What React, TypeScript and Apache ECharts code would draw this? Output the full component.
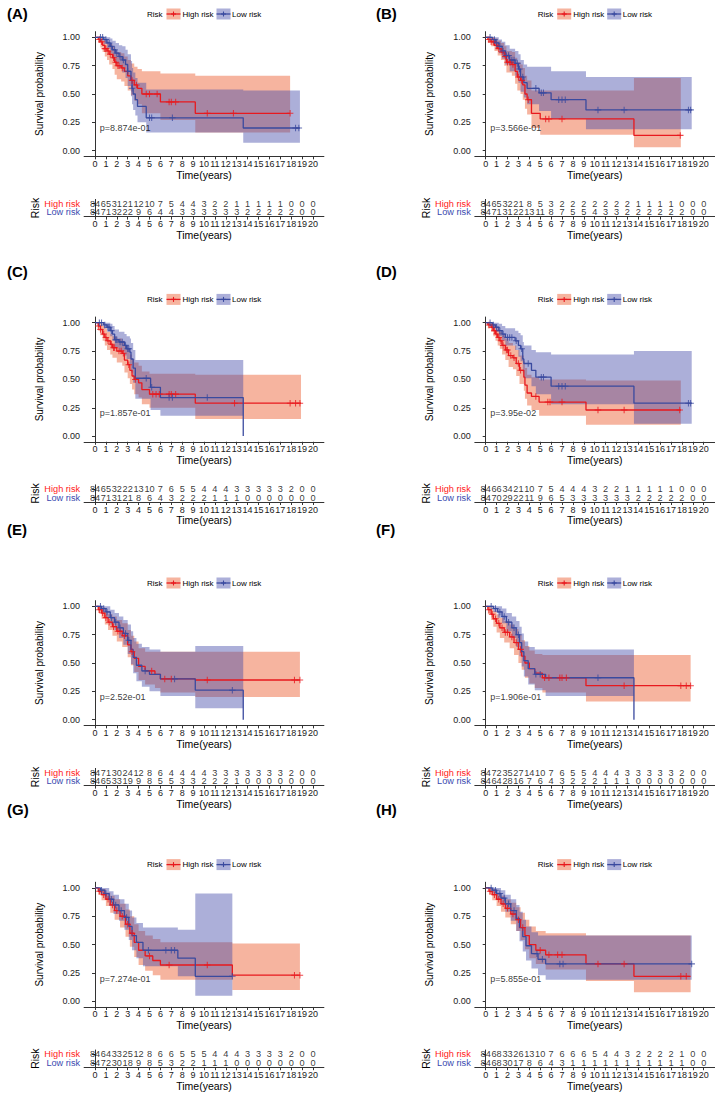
import React, { useEffect, useRef } from "react";
import * as echarts from "echarts";

const YEARS = [0, 1, 2, 3, 4, 5, 6, 7, 8, 9, 10, 11, 12, 13, 14, 15, 16, 17, 18, 19, 20];
const SURV_TICKS = [0, 0.25, 0.5, 0.75, 1];
const PANEL_LABELS = ["(A)", "(B)", "(C)", "(D)", "(E)", "(F)", "(G)", "(H)"];
const P_VALUES = ["p=8.874e-01", "p=3.566e-01", "p=1.857e-01", "p=3.95e-02", "p=2.52e-01", "p=1.906e-01", "p=7.274e-01", "p=5.855e-01"];
const GROUPS = ["High risk", "Low risk"];

// steps: [time, survival, lower CI, upper CI]
const aHighSteps = [[0, 1, 1, 1], [0.3, 0.98, 0.95, 1], [0.5, 0.96, 0.91, 1], [0.7, 0.93, 0.87, 0.99], [0.9, 0.9, 0.83, 0.97], [1.1, 0.88, 0.8, 0.96], [1.3, 0.85, 0.76, 0.94], [1.6, 0.82, 0.72, 0.92], [1.8, 0.78, 0.67, 0.89], [2.0, 0.75, 0.63, 0.87], [2.4, 0.73, 0.61, 0.86], [2.7, 0.7, 0.57, 0.83], [3.0, 0.66, 0.53, 0.8], [3.3, 0.62, 0.49, 0.77], [3.6, 0.58, 0.44, 0.74], [3.9, 0.55, 0.41, 0.72], [4.3, 0.5, 0.33, 0.7], [6.0, 0.43, 0.27, 0.68], [9.2, 0.33, 0.16, 0.66], [17.9, 0.33, 0.16, 0.66]];
const aHighCensor = [0.4, 0.6, 0.9, 1.0, 1.2, 1.4, 1.7, 1.9, 2.1, 2.2, 2.5, 3.4, 3.8, 4.7, 5.0, 5.7, 6.8, 7.0, 7.4, 10.3, 12.7, 17.9];
const aLowSteps = [[0, 1, 1, 1], [0.8, 0.98, 0.94, 1], [1.1, 0.95, 0.9, 1], [1.4, 0.92, 0.86, 0.99], [1.6, 0.89, 0.81, 0.97], [1.9, 0.86, 0.77, 0.95], [2.2, 0.83, 0.73, 0.93], [2.5, 0.8, 0.69, 0.92], [2.8, 0.76, 0.64, 0.89], [3.0, 0.7, 0.57, 0.85], [3.3, 0.62, 0.48, 0.79], [3.4, 0.55, 0.41, 0.73], [3.5, 0.5, 0.36, 0.69], [3.7, 0.45, 0.31, 0.64], [3.9, 0.39, 0.25, 0.6], [4.7, 0.29, 0.16, 0.54], [13.6, 0.2, 0.07, 0.53], [18.8, 0.2, 0.07, 0.53]];
const aLowCensor = [0.5, 0.7, 1.0, 1.3, 1.5, 1.8, 2.0, 2.3, 2.6, 3.0, 3.4, 5.0, 5.2, 7.1, 18.4, 18.7];
const aHighRisk = [84, 65, 31, 21, 12, 10, 7, 5, 4, 4, 3, 2, 2, 1, 1, 1, 1, 1, 0, 0, 0];
const aLowRisk = [84, 71, 32, 22, 9, 6, 4, 4, 3, 3, 3, 3, 3, 3, 2, 2, 2, 2, 2, 0, 0];

const bHighSteps = [[0, 1, 1, 1], [0.2, 0.98, 0.95, 1], [0.5, 0.96, 0.92, 1], [0.8, 0.93, 0.88, 0.99], [1.1, 0.9, 0.84, 0.97], [1.4, 0.87, 0.8, 0.95], [1.7, 0.83, 0.75, 0.92], [1.9, 0.78, 0.69, 0.88], [2.4, 0.76, 0.66, 0.87], [2.7, 0.7, 0.59, 0.82], [2.9, 0.65, 0.53, 0.78], [3.2, 0.62, 0.5, 0.76], [3.4, 0.58, 0.45, 0.73], [3.6, 0.5, 0.37, 0.66], [3.8, 0.45, 0.32, 0.62], [4.2, 0.33, 0.2, 0.53], [5.0, 0.28, 0.14, 0.53], [13.6, 0.135, 0.03, 0.64], [17.9, 0.135, 0.03, 0.64]];
const bHighCensor = [0.3, 0.5, 0.7, 1.0, 1.2, 1.5, 1.8, 2.0, 2.2, 2.3, 2.5, 3.0, 3.3, 3.9, 5.5, 5.8, 7.0, 17.85];
const bLowSteps = [[0, 1, 1, 1], [0.6, 0.98, 0.95, 1], [0.9, 0.95, 0.9, 1], [1.2, 0.92, 0.86, 0.98], [1.5, 0.88, 0.81, 0.96], [1.8, 0.84, 0.76, 0.93], [2.2, 0.8, 0.7, 0.9], [2.7, 0.77, 0.66, 0.88], [3.0, 0.72, 0.6, 0.85], [3.2, 0.65, 0.52, 0.8], [3.5, 0.6, 0.47, 0.76], [3.8, 0.55, 0.41, 0.74], [4.9, 0.51, 0.35, 0.74], [6.0, 0.45, 0.28, 0.7], [9.2, 0.36, 0.19, 0.65], [18.9, 0.36, 0.19, 0.65]];
const bLowCensor = [0.4, 0.8, 1.0, 1.3, 1.6, 1.9, 2.1, 2.4, 2.6, 2.9, 3.1, 3.4, 4.6, 5.1, 5.3, 6.7, 7.0, 7.3, 10.3, 12.7, 18.6, 18.8];
const bHighRisk = [84, 65, 32, 21, 8, 5, 3, 2, 2, 2, 2, 2, 2, 2, 1, 1, 1, 1, 0, 0, 0];
const bLowRisk = [84, 71, 31, 22, 13, 11, 8, 7, 5, 5, 4, 3, 3, 2, 2, 2, 2, 2, 2, 0, 0];

const cHighSteps = [[0, 1, 1, 1], [0.3, 0.97, 0.93, 1], [0.5, 0.94, 0.89, 0.99], [0.7, 0.9, 0.84, 0.97], [0.9, 0.87, 0.8, 0.95], [1.1, 0.84, 0.76, 0.92], [1.4, 0.81, 0.72, 0.9], [1.6, 0.78, 0.69, 0.88], [2.0, 0.75, 0.65, 0.86], [2.5, 0.73, 0.62, 0.84], [2.7, 0.67, 0.56, 0.8], [3.0, 0.63, 0.51, 0.77], [3.2, 0.58, 0.46, 0.72], [3.4, 0.53, 0.41, 0.68], [3.6, 0.5, 0.37, 0.65], [4.0, 0.47, 0.34, 0.62], [4.3, 0.41, 0.28, 0.57], [5.0, 0.37, 0.25, 0.55], [9.2, 0.29, 0.15, 0.54], [18.9, 0.29, 0.15, 0.54]];
const cHighCensor = [0.3, 0.5, 0.8, 1.0, 1.2, 1.5, 1.7, 1.8, 2.2, 2.4, 2.6, 3.1, 3.7, 5.3, 5.6, 5.9, 6.8, 7.0, 7.4, 12.8, 17.9, 18.4, 18.8];
const cLowSteps = [[0, 1, 1, 1], [0.8, 0.98, 0.95, 1], [1.1, 0.96, 0.92, 1], [1.4, 0.93, 0.88, 0.99], [1.6, 0.9, 0.84, 0.97], [1.8, 0.85, 0.78, 0.94], [2.2, 0.83, 0.75, 0.92], [2.7, 0.8, 0.71, 0.9], [2.9, 0.77, 0.68, 0.88], [3.2, 0.74, 0.63, 0.86], [3.3, 0.68, 0.56, 0.82], [3.5, 0.6, 0.47, 0.76], [3.7, 0.51, 0.33, 0.67], [5.1, 0.43, 0.23, 0.67], [6.0, 0.34, 0.18, 0.67], [13.6, 0, 0, 0]];
const cLowCensor = [0.4, 0.6, 0.9, 1.2, 1.3, 1.5, 1.9, 2.0, 2.3, 2.5, 2.8, 3.0, 3.1, 4.7, 5.2, 6.8, 7.1, 10.3];
const cHighRisk = [84, 65, 32, 22, 13, 10, 7, 6, 5, 5, 4, 4, 4, 3, 3, 3, 3, 3, 2, 0, 0];
const cLowRisk = [84, 71, 31, 21, 8, 6, 4, 3, 2, 2, 2, 1, 1, 1, 0, 0, 0, 0, 0, 0, 0];

const dHighSteps = [[0, 1, 1, 1], [0.2, 0.98, 0.95, 1], [0.5, 0.96, 0.92, 1], [0.7, 0.93, 0.88, 0.98], [0.9, 0.9, 0.84, 0.96], [1.1, 0.87, 0.8, 0.94], [1.3, 0.84, 0.77, 0.92], [1.5, 0.8, 0.72, 0.89], [1.8, 0.76, 0.67, 0.86], [2.1, 0.71, 0.61, 0.82], [2.5, 0.69, 0.59, 0.8], [2.8, 0.64, 0.53, 0.76], [3.1, 0.58, 0.46, 0.71], [3.5, 0.52, 0.4, 0.66], [3.6, 0.45, 0.33, 0.6], [3.8, 0.38, 0.27, 0.54], [4.2, 0.35, 0.23, 0.52], [4.9, 0.3, 0.18, 0.5], [9.2, 0.23, 0.1, 0.49], [17.9, 0.23, 0.1, 0.49]];
const dHighCensor = [0.3, 0.6, 0.8, 1.0, 1.2, 1.4, 1.6, 1.9, 2.0, 2.3, 2.6, 3.0, 3.2, 4.6, 5.7, 5.9, 7.0, 10.3, 12.7, 17.8];
const dLowSteps = [[0, 1, 1, 1], [0.6, 0.98, 0.95, 1], [0.9, 0.96, 0.92, 1], [1.2, 0.93, 0.88, 0.99], [1.5, 0.9, 0.84, 0.97], [1.8, 0.87, 0.8, 0.95], [2.7, 0.84, 0.76, 0.93], [3.0, 0.8, 0.7, 0.91], [3.2, 0.77, 0.66, 0.89], [3.4, 0.68, 0.56, 0.83], [3.5, 0.64, 0.51, 0.8], [4.2, 0.58, 0.44, 0.76], [4.6, 0.52, 0.37, 0.74], [6.0, 0.44, 0.28, 0.72], [13.6, 0.29, 0.11, 0.75], [18.9, 0.29, 0.11, 0.75]];
const dLowCensor = [0.4, 0.7, 1.0, 1.3, 1.6, 2.0, 2.2, 2.4, 2.8, 3.3, 3.9, 5.1, 5.3, 6.7, 7.0, 7.3, 18.6, 18.8];
const dHighRisk = [84, 66, 34, 21, 10, 7, 5, 4, 4, 4, 3, 2, 2, 1, 1, 1, 1, 1, 0, 0, 0];
const dLowRisk = [84, 70, 29, 22, 11, 9, 6, 5, 3, 3, 3, 3, 3, 3, 2, 2, 2, 2, 2, 0, 0];

const eHighSteps = [[0, 1, 1, 1], [0.3, 0.97, 0.94, 1], [0.6, 0.94, 0.89, 0.99], [0.9, 0.9, 0.84, 0.96], [1.2, 0.86, 0.79, 0.93], [1.6, 0.82, 0.74, 0.91], [2.0, 0.78, 0.69, 0.88], [2.5, 0.74, 0.64, 0.85], [3.0, 0.66, 0.55, 0.79], [3.3, 0.6, 0.48, 0.74], [3.6, 0.54, 0.42, 0.69], [4.0, 0.47, 0.35, 0.63], [4.6, 0.43, 0.31, 0.6], [5.5, 0.4, 0.28, 0.6], [6.0, 0.36, 0.24, 0.6], [9.2, 0.35, 0.2, 0.6], [18.8, 0.35, 0.2, 0.6]];
const eHighCensor = [0.4, 0.7, 1.0, 1.3, 1.7, 2.1, 2.3, 2.7, 3.4, 5.2, 6.4, 7.0, 10.3, 18.3, 18.8];
const eLowSteps = [[0, 1, 1, 1], [0.6, 0.98, 0.95, 1], [1.0, 0.95, 0.9, 1], [1.4, 0.9, 0.84, 0.97], [1.8, 0.86, 0.79, 0.94], [2.2, 0.81, 0.72, 0.91], [2.6, 0.76, 0.66, 0.88], [3.0, 0.7, 0.58, 0.84], [3.3, 0.62, 0.49, 0.78], [3.5, 0.55, 0.41, 0.72], [3.8, 0.48, 0.34, 0.67], [4.3, 0.43, 0.29, 0.64], [5.0, 0.4, 0.25, 0.62], [6.0, 0.36, 0.21, 0.6], [9.2, 0.26, 0.1, 0.65], [13.6, 0, 0, 0]];
const eLowCensor = [0.5, 0.8, 1.1, 1.5, 1.9, 2.3, 2.8, 3.1, 4.6, 7.3, 12.6];
const eHighRisk = [84, 71, 30, 24, 12, 8, 6, 4, 4, 4, 4, 3, 3, 3, 3, 3, 3, 3, 2, 0, 0];
const eLowRisk = [84, 65, 33, 19, 9, 8, 5, 5, 3, 3, 2, 2, 2, 1, 0, 0, 0, 0, 0, 0, 0];

const fHighSteps = [[0, 1, 1, 1], [0.2, 0.97, 0.93, 1], [0.5, 0.93, 0.88, 0.99], [0.7, 0.89, 0.82, 0.96], [1.0, 0.85, 0.77, 0.93], [1.3, 0.81, 0.72, 0.9], [1.7, 0.77, 0.68, 0.87], [2.2, 0.73, 0.63, 0.84], [2.6, 0.68, 0.57, 0.8], [3.0, 0.62, 0.5, 0.75], [3.3, 0.56, 0.44, 0.7], [3.6, 0.5, 0.37, 0.65], [4.0, 0.45, 0.32, 0.61], [4.5, 0.41, 0.28, 0.58], [5.2, 0.37, 0.24, 0.57], [9.2, 0.3, 0.16, 0.57], [18.8, 0.3, 0.16, 0.57]];
const fHighCensor = [0.3, 0.6, 0.9, 1.2, 1.5, 1.8, 2.0, 2.4, 2.8, 3.2, 5.4, 5.8, 6.8, 7.0, 7.4, 12.7, 17.9, 18.4, 18.8];
const fLowSteps = [[0, 1, 1, 1], [0.7, 0.98, 0.95, 1], [1.1, 0.95, 0.9, 1], [1.5, 0.91, 0.85, 0.98], [1.9, 0.86, 0.78, 0.94], [2.4, 0.81, 0.72, 0.91], [2.8, 0.75, 0.64, 0.87], [3.1, 0.68, 0.56, 0.82], [3.3, 0.6, 0.47, 0.76], [3.5, 0.52, 0.38, 0.69], [3.9, 0.45, 0.31, 0.64], [4.5, 0.4, 0.26, 0.62], [5.5, 0.37, 0.21, 0.62], [13.6, 0, 0, 0]];
const fLowCensor = [0.5, 0.9, 1.3, 1.7, 2.1, 2.6, 3.0, 4.6, 5.0, 10.3];
const fHighRisk = [84, 72, 35, 27, 14, 10, 7, 6, 5, 5, 4, 4, 4, 3, 3, 3, 3, 3, 2, 0, 0];
const fLowRisk = [84, 64, 28, 16, 7, 6, 4, 3, 2, 2, 2, 1, 1, 1, 0, 0, 0, 0, 0, 0, 0];

const gHighSteps = [[0, 1, 1, 1], [0.3, 0.97, 0.94, 1], [0.6, 0.94, 0.89, 0.99], [1.0, 0.9, 0.84, 0.96], [1.4, 0.85, 0.78, 0.93], [1.8, 0.8, 0.72, 0.9], [2.3, 0.75, 0.65, 0.86], [2.8, 0.68, 0.57, 0.81], [3.2, 0.6, 0.48, 0.75], [3.6, 0.52, 0.39, 0.68], [4.0, 0.45, 0.32, 0.62], [4.6, 0.4, 0.27, 0.58], [5.3, 0.36, 0.23, 0.55], [6.0, 0.32, 0.19, 0.52], [12.6, 0.23, 0.1, 0.51], [18.8, 0.23, 0.1, 0.51]];
const gHighCensor = [0.4, 0.8, 1.2, 1.6, 2.0, 2.5, 3.0, 3.4, 5.0, 6.8, 10.3, 18.3, 18.8];
const gLowSteps = [[0, 1, 1, 1], [0.5, 0.98, 0.95, 1], [0.9, 0.95, 0.9, 1], [1.3, 0.9, 0.84, 0.97], [1.7, 0.85, 0.77, 0.94], [2.2, 0.8, 0.71, 0.9], [2.7, 0.74, 0.63, 0.86], [3.1, 0.66, 0.54, 0.8], [3.4, 0.58, 0.45, 0.74], [3.8, 0.52, 0.38, 0.69], [4.4, 0.45, 0.31, 0.65], [7.6, 0.38, 0.22, 0.63], [9.2, 0.22, 0.05, 0.95], [12.6, 0.22, 0.05, 0.95]];
const gLowCensor = [0.6, 1.0, 1.5, 1.9, 2.4, 2.9, 4.9, 6.5, 7.0, 7.3, 12.6];
const gHighRisk = [84, 64, 33, 25, 12, 8, 6, 6, 5, 5, 5, 4, 4, 4, 3, 3, 3, 3, 2, 0, 0];
const gLowRisk = [84, 72, 30, 18, 9, 8, 5, 3, 2, 2, 1, 1, 1, 0, 0, 0, 0, 0, 0, 0, 0];

const hHighSteps = [[0, 1, 1, 1], [0.3, 0.97, 0.94, 1], [0.6, 0.94, 0.89, 0.99], [1.0, 0.9, 0.84, 0.96], [1.4, 0.86, 0.79, 0.93], [1.8, 0.82, 0.74, 0.9], [2.3, 0.77, 0.68, 0.87], [2.8, 0.72, 0.62, 0.83], [3.2, 0.65, 0.54, 0.78], [3.6, 0.58, 0.46, 0.72], [4.0, 0.5, 0.38, 0.66], [4.6, 0.45, 0.33, 0.62], [5.5, 0.41, 0.28, 0.6], [9.2, 0.33, 0.18, 0.58], [13.6, 0.22, 0.08, 0.58], [18.8, 0.22, 0.08, 0.58]];
const hHighCensor = [0.4, 0.8, 1.2, 1.6, 2.0, 2.5, 3.0, 3.4, 5.0, 5.8, 6.6, 7.0, 10.3, 12.7, 17.9, 18.4];
const hLowSteps = [[0, 1, 1, 1], [0.6, 0.98, 0.95, 1], [1.0, 0.95, 0.9, 1], [1.4, 0.91, 0.85, 0.98], [1.8, 0.86, 0.79, 0.94], [2.3, 0.8, 0.71, 0.9], [2.8, 0.73, 0.62, 0.85], [3.1, 0.65, 0.53, 0.79], [3.4, 0.57, 0.44, 0.72], [3.7, 0.49, 0.36, 0.66], [4.2, 0.42, 0.29, 0.61], [4.8, 0.37, 0.23, 0.58], [5.5, 0.33, 0.19, 0.58], [18.9, 0.33, 0.19, 0.58]];
const hLowCensor = [0.5, 0.9, 1.3, 1.7, 2.1, 2.6, 4.7, 5.2, 6.8, 7.1, 18.9];
const hHighRisk = [84, 68, 33, 26, 13, 10, 7, 6, 6, 6, 5, 4, 4, 3, 2, 2, 2, 2, 1, 0, 0];
const hLowRisk = [84, 68, 30, 17, 8, 6, 4, 3, 1, 1, 1, 1, 1, 1, 1, 1, 1, 1, 1, 0, 0];

const PANELS = [
  { high: [aHighSteps, aHighCensor, aHighRisk], low: [aLowSteps, aLowCensor, aLowRisk] },
  { high: [bHighSteps, bHighCensor, bHighRisk], low: [bLowSteps, bLowCensor, bLowRisk] },
  { high: [cHighSteps, cHighCensor, cHighRisk], low: [cLowSteps, cLowCensor, cLowRisk] },
  { high: [dHighSteps, dHighCensor, dHighRisk], low: [dLowSteps, dLowCensor, dLowRisk] },
  { high: [eHighSteps, eHighCensor, eHighRisk], low: [eLowSteps, eLowCensor, eLowRisk] },
  { high: [fHighSteps, fHighCensor, fHighRisk], low: [fLowSteps, fLowCensor, fLowRisk] },
  { high: [gHighSteps, gHighCensor, gHighRisk], low: [gLowSteps, gLowCensor, gLowRisk] },
  { high: [hHighSteps, hHighCensor, hHighRisk], low: [hLowSteps, hLowCensor, hLowRisk] },
];

const FONT = "'Liberation Sans', Arial, Helvetica, sans-serif";
const RED = "#E8191E";
const BLUE = "#3A4A9F";
const RED_BAND = "rgba(236,96,50,0.47)";
const BLUE_BAND = "rgba(66,72,168,0.44)";
const TXT = "#1a1a1a";
const AXIS = "#333";

const PX = 113.4; // pixels per unit survival
const YR = 10.9; // pixels per year
const COL_LEFT = [84.1, 474.8];
const ROW_Y1 = [37.3, 322.7, 606.3, 887.9];
const LABEL_Y = [13.5, 271.7, 530, 810];
const LABEL_X = [7, 376];
const PLUS = "path://M4.2,0H5.8V4.2H10V5.8H5.8V10H4.2V5.8H0V4.2H4.2Z";

function survAt(steps: number[][], t: number) {
  let s = steps[0][1];
  for (const st of steps) if (st[0] <= t) s = st[1];
  return s;
}

function bandPolygon(steps: number[][]) {
  const up: number[][] = [];
  const lo: number[][] = [];
  for (let k = 0; k < steps.length; k++) {
    const [t, , l, u] = steps[k];
    up.push([t, u]);
    lo.push([t, l]);
    if (k < steps.length - 1) {
      const tn = steps[k + 1][0];
      up.push([tn, u]);
      lo.push([tn, l]);
    }
  }
  return up.concat(lo.reverse());
}

function buildOption() {
  const grid: any[] = [];
  const xAxis: any[] = [];
  const yAxis: any[] = [];
  const series: any[] = [];
  const graphic: any[] = [];
  const width = 22 * YR;

  PANELS.forEach((p, i) => {
    const col = i % 2;
    const row = Math.floor(i / 2);
    const gl = COL_LEFT[col];
    const y1 = ROW_Y1[row];
    const km = grid.length;
    grid.push({ left: gl, top: y1 - 0.05 * PX, width, height: 1.1 * PX });
    const tb = grid.length;
    grid.push({ left: gl, top: y1 + 162.1, width, height: 17.2 });

    const xCommon = {
      type: "value",
      min: -1,
      max: 21,
      interval: 1,
      axisLine: { show: true, onZero: false, lineStyle: { color: AXIS, width: 1 } },
      axisTick: { show: true, length: 3, customValues: YEARS, lineStyle: { color: AXIS } },
      axisLabel: { customValues: YEARS, fontSize: 9, color: TXT, margin: 3, fontFamily: FONT },
      splitLine: { show: false },
      name: "Time(years)",
      nameLocation: "middle",
      nameGap: 12,
      nameTextStyle: { fontSize: 10.5, color: "#000", fontFamily: FONT },
    };
    xAxis.push({ ...xCommon, gridIndex: km });
    xAxis.push({ ...xCommon, gridIndex: tb });

    yAxis.push({
      type: "value",
      gridIndex: km,
      min: -0.05,
      max: 1.05,
      interval: 0.05,
      axisLine: { show: true, lineStyle: { color: AXIS, width: 1 } },
      axisTick: { show: true, length: 3, customValues: SURV_TICKS, lineStyle: { color: AXIS } },
      axisLabel: {
        customValues: SURV_TICKS,
        fontSize: 9,
        color: TXT,
        margin: 4,
        fontFamily: FONT,
        formatter: (v: number) => v.toFixed(2),
      },
      splitLine: { show: false },
      name: "Survival probability",
      nameLocation: "middle",
      nameRotate: 90,
      nameGap: 40,
      nameTextStyle: { fontSize: 10, color: "#000", fontFamily: FONT },
    });
    yAxis.push({
      type: "category",
      gridIndex: tb,
      data: [GROUPS[1], GROUPS[0]],
      axisLine: { show: true, lineStyle: { color: AXIS, width: 1 } },
      axisTick: { show: true, length: 3, interval: 0, alignWithLabel: true, lineStyle: { color: AXIS } },
      axisLabel: {
        interval: 0,
        margin: 4,
        fontFamily: FONT,
        lineHeight: 8,
        formatter: (v: string) => (v === GROUPS[0] ? `{h|${v}}` : `{l|${v}}`),
        rich: {
          h: { color: "#FF1A1A", fontSize: 9.2, fontFamily: FONT, lineHeight: 8 },
          l: { color: "#3A4AB0", fontSize: 9.2, fontFamily: FONT, lineHeight: 8 },
        },
      },
      splitLine: { show: false },
      name: "Risk",
      nameLocation: "middle",
      nameRotate: 90,
      nameGap: 42,
      nameTextStyle: { fontSize: 10.5, color: "#000", fontFamily: FONT },
    });

    const groups = [
      { d: p.high, color: RED, band: RED_BAND },
      { d: p.low, color: BLUE, band: BLUE_BAND },
    ];
    groups.forEach((g, gi) => {
      const steps = g.d[0] as number[][];
      const poly = bandPolygon(steps);
      series.push({
        type: "custom",
        xAxisIndex: km,
        yAxisIndex: km,
        silent: true,
        z: 1 + gi,
        data: [[0, 0]],
        renderItem: (_params: any, api: any) => ({
          type: "polygon",
          shape: { points: poly.map((pt) => api.coord(pt)) },
          style: { fill: g.band, stroke: "none" },
        }),
      });
    });
    groups.forEach((g) => {
      const steps = g.d[0] as number[][];
      const cens = g.d[1] as number[];
      series.push({
        type: "line",
        xAxisIndex: km,
        yAxisIndex: km,
        step: "end",
        showSymbol: false,
        silent: true,
        z: 5,
        lineStyle: { color: g.color, width: 1.3 },
        data: steps.map((s) => [s[0], s[1]]),
      });
      series.push({
        type: "scatter",
        xAxisIndex: km,
        yAxisIndex: km,
        symbol: PLUS,
        symbolSize: 6.5,
        silent: true,
        z: 6,
        itemStyle: { color: g.color },
        data: cens.map((t) => [t, survAt(steps, t)]),
      });
    });
    // p-value
    series.push({
      type: "scatter",
      xAxisIndex: km,
      yAxisIndex: km,
      symbolSize: 1,
      silent: true,
      z: 7,
      itemStyle: { color: "rgba(0,0,0,0)" },
      label: {
        show: true,
        position: "right",
        distance: 0,
        formatter: P_VALUES[i],
        fontSize: 9,
        color: "#000",
        fontFamily: FONT,
      },
      data: [[0.38, 0.2]],
    });
    // risk table
    const tableData: any[] = [];
    (p.high[2] as number[]).forEach((v, k) => tableData.push([YEARS[k], 1, v]));
    (p.low[2] as number[]).forEach((v, k) => tableData.push([YEARS[k], 0, v]));
    series.push({
      type: "scatter",
      xAxisIndex: tb,
      yAxisIndex: tb,
      symbolSize: 1,
      silent: true,
      itemStyle: { color: "rgba(0,0,0,0)" },
      label: {
        show: true,
        position: "inside",
        formatter: (q: any) => String(q.value[2]),
        fontSize: 9.2,
        lineHeight: 8,
        color: "#000",
        fontFamily: FONT,
      },
      data: tableData,
    });

    // panel label
    graphic.push({
      type: "text",
      left: LABEL_X[col],
      top: LABEL_Y[row] - 8,
      style: { text: PANEL_LABELS[i], fontSize: 15, fontWeight: "bold", fill: "#000", fontFamily: FONT },
    });
    // legend
    const cx = gl + width / 2;
    const ly = y1 - 23.3;
    const legendItems: any[] = [
      { type: "text", x: cx - 57, y: ly, style: { text: "Risk", fontSize: 8, fill: "#000", fontFamily: FONT, verticalAlign: "middle" } },
    ];
    const sw = [
      { x: cx - 37.5, color: RED, band: RED_BAND, text: GROUPS[0], tx: cx - 21.5 },
      { x: cx + 12.5, color: BLUE, band: BLUE_BAND, text: GROUPS[1], tx: cx + 28 },
    ];
    sw.forEach((s) => {
      legendItems.push({ type: "rect", shape: { x: s.x, y: ly - 5.5, width: 14, height: 11 }, style: { fill: s.band } });
      legendItems.push({ type: "line", shape: { x1: s.x, y1: ly, x2: s.x + 14, y2: ly }, style: { stroke: s.color, lineWidth: 1.3 } });
      legendItems.push({ type: "line", shape: { x1: s.x + 7, y1: ly - 2.5, x2: s.x + 7, y2: ly + 2.5 }, style: { stroke: s.color, lineWidth: 1.1 } });
      legendItems.push({ type: "line", shape: { x1: s.x + 4.5, y1: ly, x2: s.x + 9.5, y2: ly }, style: { stroke: s.color, lineWidth: 1.1 } });
      legendItems.push({ type: "text", x: s.tx, y: ly, style: { text: s.text, fontSize: 8, fill: "#000", fontFamily: FONT, verticalAlign: "middle" } });
    });
    graphic.push({ type: "group", children: legendItems });
  });

  return {
    animation: false,
    backgroundColor: "#fff",
    grid,
    xAxis,
    yAxis,
    series,
    graphic,
  };
}

export default function App() {
  const ref = useRef<HTMLDivElement>(null);
  useEffect(() => {
    if (!ref.current) return;
    const chart = echarts.init(ref.current, undefined, { renderer: "svg" });
    chart.setOption(buildOption() as any);
    return () => chart.dispose();
  }, []);
  return <div ref={ref} style={{ position: "absolute", left: 0, top: 0, width: 720, height: 1094 }} />;
}
